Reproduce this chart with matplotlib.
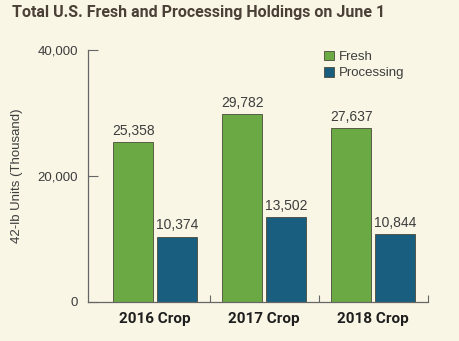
import matplotlib.pyplot as plt
import numpy as np

crops = ["2016 Crop", "2017 Crop", "2018 Crop"]
fresh = [25358, 29782, 27637]
processing = [10374, 13502, 10844]
yticks = [0, 20000, 40000]

bg = "#faf6e5"
green = "#6aa944"
blue = "#195e7e"
txt = "#3d3d3d"

plt.rcParams['font.family'] = ['Liberation Sans', 'DejaVu Sans']

fig = plt.figure(figsize=(4.6, 3.41), dpi=100, facecolor=bg)
ax = fig.add_axes([0.1913, 0.1144, 0.7387, 0.739])
ax.set_facecolor(bg)

x = np.arange(len(crops))
w = 0.367
off = 0.2
b1 = ax.bar(x - off, fresh, w, color=green, edgecolor="#4a4a3a", linewidth=0.6, label="Fresh")
b2 = ax.bar(x + off, processing, w, color=blue, edgecolor="#4a4a3a", linewidth=0.6, label="Processing")

for bars, vals in ((b1, fresh), (b2, processing)):
    for r, v in zip(bars, vals):
        ax.annotate(f"{v:,}", (r.get_x() + r.get_width() / 2, v), xytext=(0, 3),
                    textcoords="offset points", ha="center", va="bottom",
                    fontsize=10, color=txt)

ax.set_xlim(-0.615, 2.5)
ax.set_ylim(0, 40000)
ax.set_yticks(yticks)
ax.set_yticklabels([f"{t:,}" for t in yticks], fontsize=9.5, color=txt)
ax.tick_params(axis="y", direction="in", length=7, color="#666666", pad=7)
ax.set_xticks([0.5, 1.5, 2.5])
ax.set_xticklabels([])
ax.tick_params(axis="x", direction="in", length=5, color="#666666")
ax.set_xticks(x, minor=True)
ax.set_xticklabels(crops, minor=True, fontsize=11, fontweight="bold",
                   family=['Roboto', 'DejaVu Sans'], color="#1e1e1e")
ax.tick_params(axis="x", which="minor", length=0, pad=7)

for s in ("top", "right"):
    ax.spines[s].set_visible(False)
for s in ("left", "bottom"):
    ax.spines[s].set_color("#666666")
    ax.spines[s].set_linewidth(0.9)

ax.set_ylabel("42-lb Units (Thousand)", fontsize=9.5, color=txt, labelpad=14)
ax.yaxis.set_label_coords(-0.19, 0.5)

ax.legend(loc="upper left", bbox_to_anchor=(0.66, 1.045), frameon=False,
          fontsize=9.5, handlelength=0.75, handleheight=0.75, handletextpad=0.4,
          labelspacing=0.3, labelcolor=txt)

fig.text(0.026, 0.962, "Total U.S. Fresh and Processing Holdings on June 1",
         fontsize=11.5, fontweight="bold", color="#4a4036", va="center",
         family=['Roboto', 'DejaVu Sans'])

plt.savefig("out.png", dpi=100, facecolor=bg)
